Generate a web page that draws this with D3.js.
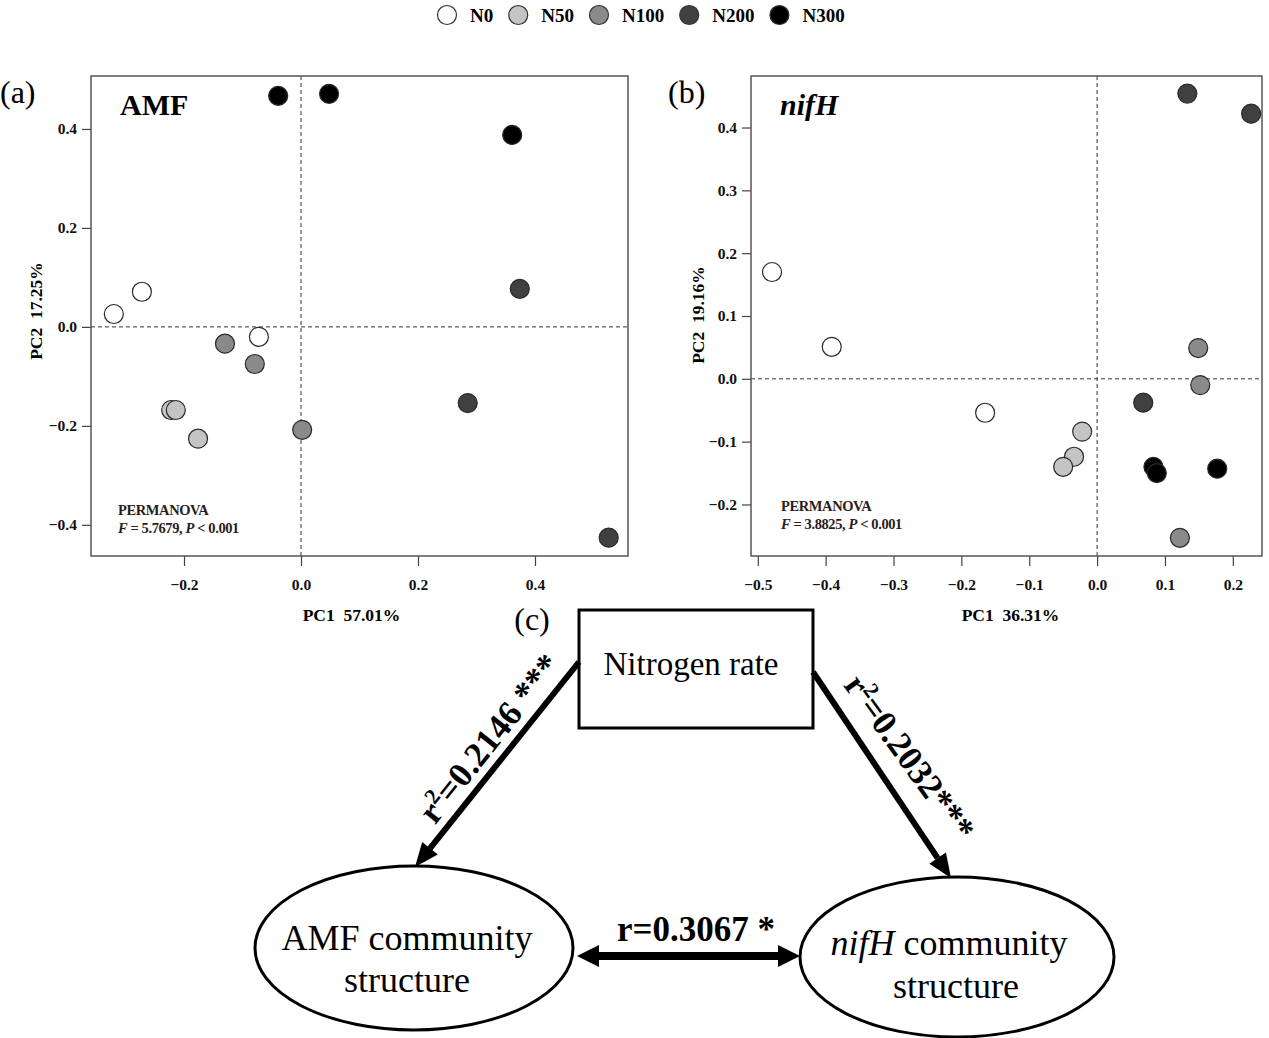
<!DOCTYPE html>
<html>
<head>
<meta charset="utf-8">
<script src="https://cdn.jsdelivr.net/npm/d3@7"></script>
<style>
body { margin: 0; background: #fff; }
svg { display: block; }
text { font-family: "Liberation Serif", "Times New Roman", serif; }
</style>
</head>
<body>
<script>
// treatment groups
var groups = ["N0", "N50", "N100", "N200", "N300"];

// (a) AMF PCoA
var amfGroup = ["N0","N0","N0","N50","N50","N50","N100","N100","N100","N200","N200","N200","N300","N300","N300"];
var amfPC1 = [-0.320, -0.272, -0.072, -0.222, -0.214, -0.176, -0.130, -0.079, 0.002, 0.374, 0.285, 0.526, -0.039, 0.048, 0.361];
var amfPC2 = [0.026, 0.071, -0.020, -0.168, -0.168, -0.226, -0.034, -0.075, -0.208, 0.077, -0.154, -0.426, 0.467, 0.471, 0.388];
var amfXTicks = [-0.2, 0, 0.2, 0.4];
var amfYTicks = [-0.4, -0.2, 0, 0.2, 0.4];

// (b) nifH PCoA
var nifGroup = ["N0","N0","N0","N50","N50","N50","N100","N100","N100","N200","N200","N200","N300","N300","N300"];
var nifPC1 = [-0.479, -0.391, -0.165, -0.022, -0.034, -0.050, 0.149, 0.152, 0.122, 0.133, 0.227, 0.068, 0.083, 0.088, 0.177];
var nifPC2 = [0.170, 0.051, -0.054, -0.084, -0.124, -0.140, 0.049, -0.010, -0.253, 0.454, 0.422, -0.038, -0.140, -0.150, -0.143];
var nifXTicks = [-0.5, -0.4, -0.3, -0.2, -0.1, 0, 0.1, 0.2];
var nifYTicks = [-0.2, -0.1, 0, 0.1, 0.2, 0.3, 0.4];

var fill = d3.scaleOrdinal()
  .domain(groups)
  .range(["#ffffff", "#c4c4c4", "#8a8a8a", "#404040", "#000000"]);

var svg = d3.select("body").append("svg")
  .attr("width", 1269)
  .attr("height", 1038);

// ---- legend ----
var leg = svg.append("g");
var lx = 447;
groups.forEach(function (g) {
  leg.append("circle")
    .attr("cx", lx).attr("cy", 15).attr("r", 9.5)
    .attr("fill", fill(g)).attr("stroke", "#333").attr("stroke-width", 1.2);
  var t = leg.append("text")
    .attr("x", lx + 23).attr("y", 21.5)
    .attr("font-size", 19).attr("font-weight", "bold")
    .text(g);
  lx = lx + 23 + t.node().getComputedTextLength() + 25;
});

// ---- scatter panels ----
function panel(o) {
  var x = d3.scaleLinear().domain(o.xdom).range([o.left, o.right]);
  var y = d3.scaleLinear().domain(o.ydom).range([o.bottom, o.top]);
  var g = svg.append("g");
  var fmt = d3.format(".1f");

  // reference lines
  g.append("line")
    .attr("x1", x(0)).attr("x2", x(0)).attr("y1", o.top).attr("y2", o.bottom)
    .attr("stroke", "#333").attr("stroke-dasharray", "4,3");
  g.append("line")
    .attr("x1", o.left).attr("x2", o.right).attr("y1", y(0)).attr("y2", y(0))
    .attr("stroke", "#333").attr("stroke-dasharray", "4,3");

  var xa = g.append("g")
    .attr("transform", "translate(0," + o.bottom + ")")
    .call(d3.axisBottom(x).tickValues(o.xticks).tickSize(10).tickSizeOuter(0).tickPadding(13).tickFormat(fmt));
  var ya = g.append("g")
    .attr("transform", "translate(" + o.left + ",0)")
    .call(d3.axisLeft(y).tickValues(o.yticks).tickSize(9).tickSizeOuter(0).tickPadding(5).tickFormat(fmt));
  [xa, ya].forEach(function (a) {
    a.select(".domain").remove();
    a.selectAll("line").attr("stroke", "#444").attr("stroke-width", 1.2);
    a.selectAll("text")
      .attr("font-family", "Liberation Serif, serif")
      .attr("font-size", 15.5).attr("font-weight", "bold").attr("fill", "#111");
  });

  g.append("rect")
    .attr("x", o.left).attr("y", o.top)
    .attr("width", o.right - o.left).attr("height", o.bottom - o.top)
    .attr("fill", "none").attr("stroke", "#555").attr("stroke-width", 1.5);

  var data = o.pc1.map(function (v, i) { return { x: v, y: o.pc2[i], g: o.grp[i] }; });
  g.selectAll("circle.pt")
    .data(data)
    .enter()
    .append("circle")
    .attr("class", "pt")
    .attr("cx", function (d) { return x(d.x); })
    .attr("cy", function (d) { return y(d.y); })
    .attr("r", 9.5)
    .attr("fill", function (d) { return fill(d.g); })
    .attr("stroke", "#2a2a2a")
    .attr("stroke-width", 1.2);

  // titles
  g.append("text")
    .attr("x", (o.left + o.right) / 2 + o.xtOff).attr("y", 621)
    .attr("text-anchor", "middle").attr("font-size", 17.5).attr("font-weight", "bold")
    .style("white-space", "pre")
    .text(o.xtitle);
  g.append("text")
    .attr("transform", "translate(" + o.ytX + "," + o.ytY + ") rotate(-90)")
    .attr("text-anchor", "middle").attr("font-size", 17.5).attr("font-weight", "bold")
    .style("white-space", "pre")
    .text(o.ytitle);

  g.append("text")
    .attr("x", o.labX).attr("y", 103)
    .attr("font-size", 32)
    .text(o.label);

  g.append("text")
    .attr("x", o.left + 29).attr("y", 115)
    .attr("font-size", o.nameSize).attr("font-weight", "bold")
    .attr("font-style", o.nameItalic ? "italic" : "normal")
    .text(o.name);

  var p = g.append("text")
    .attr("x", o.left + o.permX).attr("y", o.permY)
    .attr("font-size", 14.5).attr("font-weight", "bold").attr("fill", "#2b1d1d")
    .attr("letter-spacing", -0.4);
  p.append("tspan").text("PERMANOVA");
  var l2 = g.append("text")
    .attr("x", o.left + o.permX).attr("y", o.permY + 18)
    .attr("font-size", 14.5).attr("font-weight", "bold").attr("fill", "#2b1d1d")
    .attr("letter-spacing", -0.4);
  l2.append("tspan").attr("font-style", "italic").text("F");
  l2.append("tspan").text(" = " + o.F + ", ");
  l2.append("tspan").attr("font-style", "italic").text("P");
  l2.append("tspan").text(" < 0.001");
}

panel({
  left: 91, right: 628, top: 76, bottom: 556,
  xdom: [-0.359, 0.559], ydom: [-0.463, 0.507],
  xticks: amfXTicks, yticks: amfYTicks,
  pc1: amfPC1, pc2: amfPC2, grp: amfGroup,
  xtitle: "PC1  57.01%", xtOff: -8, ytitle: "PC2  17.25%", ytX: 42, ytY: 311,
  label: "(a)", labX: 0, name: "AMF", nameSize: 30, nameItalic: false,
  permX: 27, permY: 515, F: "5.7679"
});

panel({
  left: 751, right: 1262, top: 76, bottom: 556,
  xdom: [-0.510, 0.243], ydom: [-0.282, 0.482],
  xticks: nifXTicks, yticks: nifYTicks,
  pc1: nifPC1, pc2: nifPC2, grp: nifGroup,
  xtitle: "PC1  36.31%", xtOff: 4, ytitle: "PC2  19.16%", ytX: 704, ytY: 315,
  label: "(b)", labX: 668, name: "nifH", nameSize: 30, nameItalic: true,
  permX: 30, permY: 511, F: "3.8825"
});

// ---- (c) path diagram ----
var dg = svg.append("g");

function arrowHead(x1, y1, x2, y2, len, half) {
  var a = Math.atan2(y2 - y1, x2 - x1);
  var bx = x2 - len * Math.cos(a), by = y2 - len * Math.sin(a);
  var px = -Math.sin(a) * half, py = Math.cos(a) * half;
  dg.append("path")
    .attr("d", "M" + x2 + "," + y2 + "L" + (bx + px) + "," + (by + py) + "L" + (bx - px) + "," + (by - py) + "Z")
    .attr("fill", "#000");
  return [bx, by];
}
function arrow(x1, y1, x2, y2) {
  var b = arrowHead(x1, y1, x2, y2, 24, 10);
  dg.append("line")
    .attr("x1", x1).attr("y1", y1).attr("x2", b[0]).attr("y2", b[1])
    .attr("stroke", "#000").attr("stroke-width", 6);
}

dg.append("text")
  .attr("x", 532).attr("y", 630)
  .attr("text-anchor", "middle").attr("font-size", 32)
  .text("(c)");

dg.append("rect")
  .attr("x", 579).attr("y", 610).attr("width", 234).attr("height", 118)
  .attr("fill", "#fff").attr("stroke", "#000").attr("stroke-width", 3);
dg.append("text")
  .attr("x", 691).attr("y", 675)
  .attr("text-anchor", "middle").attr("font-size", 33)
  .text("Nitrogen rate");

arrow(579, 662, 415, 867);
arrow(813, 672, 951, 878);

var t1 = dg.append("text")
  .attr("transform", "translate(489,738) rotate(-51.5)")
  .attr("text-anchor", "middle").attr("dy", "0.35em")
  .attr("font-size", 35).attr("font-weight", "bold");
t1.append("tspan").text("r");
t1.append("tspan").attr("dy", -13).attr("font-size", 22).text("2");
t1.append("tspan").attr("dy", 13).text("=0.2146 ***");

var t2 = dg.append("text")
  .attr("transform", "translate(910,757) rotate(54)")
  .attr("text-anchor", "middle").attr("dy", "0.35em")
  .attr("font-size", 35).attr("font-weight", "bold");
t2.append("tspan").text("r");
t2.append("tspan").attr("dy", -13).attr("font-size", 22).text("2");
t2.append("tspan").attr("dy", 13).text("=0.2032***");

dg.append("ellipse")
  .attr("cx", 414).attr("cy", 948).attr("rx", 159).attr("ry", 82)
  .attr("fill", "#fff").attr("stroke", "#000").attr("stroke-width", 3);
dg.append("ellipse")
  .attr("cx", 957).attr("cy", 957).attr("rx", 157).attr("ry", 80)
  .attr("fill", "#fff").attr("stroke", "#000").attr("stroke-width", 3);

dg.append("text").attr("x", 407).attr("y", 950)
  .attr("text-anchor", "middle").attr("font-size", 36).text("AMF community");
dg.append("text").attr("x", 407).attr("y", 992)
  .attr("text-anchor", "middle").attr("font-size", 36).text("structure");
var nt = dg.append("text").attr("x", 949).attr("y", 955)
  .attr("text-anchor", "middle").attr("font-size", 36);
nt.append("tspan").attr("font-style", "italic").text("nifH");
nt.append("tspan").text(" community");
dg.append("text").attr("x", 956).attr("y", 998)
  .attr("text-anchor", "middle").attr("font-size", 36).text("structure");

// double arrow
var hb1 = arrowHead(800, 956, 577, 956, 22, 11);
var hb2 = arrowHead(577, 956, 800, 956, 22, 11);
dg.append("line")
  .attr("x1", hb1[0]).attr("y1", 956).attr("x2", hb2[0]).attr("y2", 956)
  .attr("stroke", "#000").attr("stroke-width", 8);
dg.append("text")
  .attr("x", 696).attr("y", 941)
  .attr("text-anchor", "middle").attr("font-size", 35).attr("font-weight", "bold")
  .text("r=0.3067 *");
</script>
</body>
</html>
